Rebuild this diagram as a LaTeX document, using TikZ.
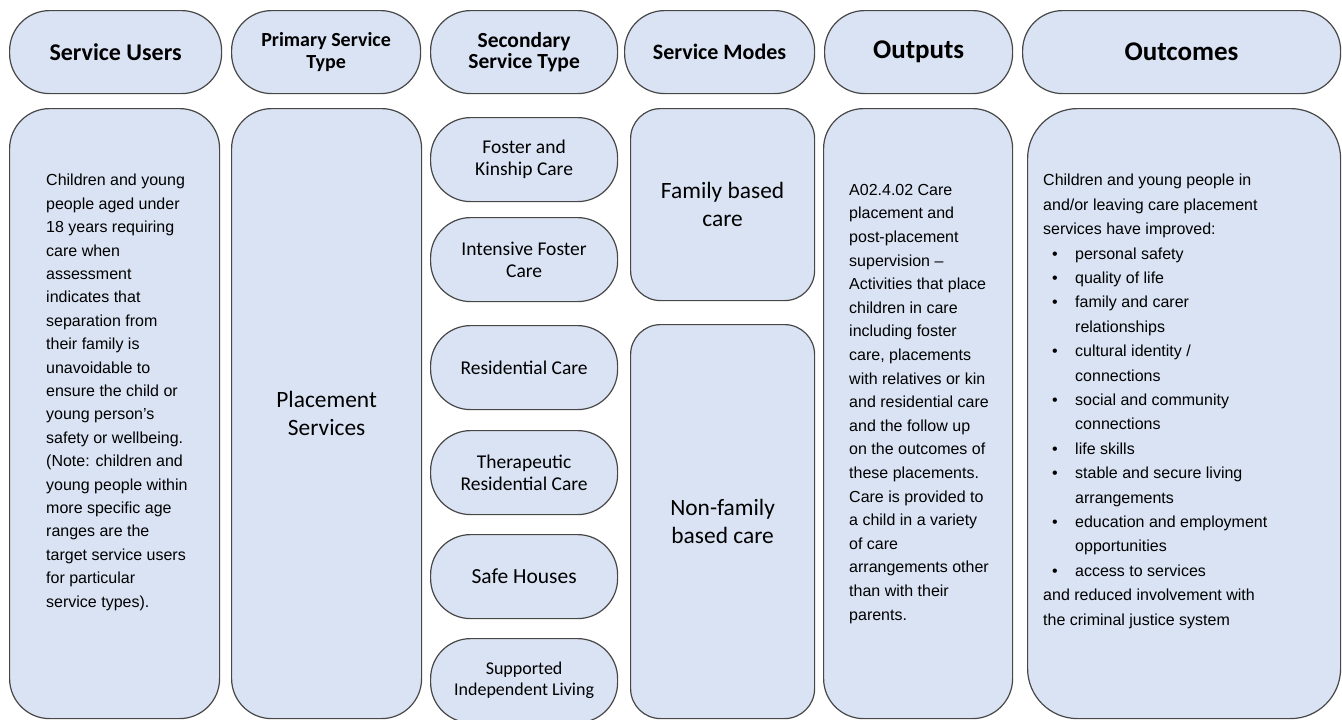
\documentclass[tikz,border=0pt]{standalone}
\usepackage{fontspec}
\setmainfont{Carlito}
\newfontfamily\arialf{Liberation Sans}
\definecolor{boxfill}{HTML}{DAE3F3}
\definecolor{boxline}{HTML}{474747}
\newcommand\bulitem{\makebox[32pt][l]{\hspace*{9pt}•}}
\newcommand\bulcont{\hspace*{32pt}}
\begin{document}
\begin{tikzpicture}[x=1pt,y=-1pt,
  box/.style={draw=boxline, fill=boxfill, line width=1.2pt, inner sep=0pt, anchor=north west, align=center},
  hdr/.style={box, rounded corners=40pt, minimum height=83pt},
  sec/.style={box, rounded corners=40pt, minimum width=187pt, minimum height=84pt, font=\fontsize{19.5}{21.7}\selectfont},
  bodytxt/.style={inner sep=0pt, anchor=north west, align=left, font=\arialf\fontsize{16}{23.4}\selectfont}]
\useasboundingbox (0,0) rectangle (1342,720);
% header row
\node[hdr, minimum width=212pt, font=\bfseries\fontsize{24}{26}\selectfont] (h1) at (9,10) {Service Users};
\node[hdr, minimum width=189pt, font=\bfseries\fontsize{20}{21.7}\selectfont] (h2) at (231,10) {Primary Service\\Type};
\node[hdr, minimum width=187pt, font=\bfseries\fontsize{21.5}{20.5}\selectfont] (h3) at (430,10) {Secondary\\Service Type};
\node[hdr, minimum width=190pt, font=\bfseries\fontsize{22}{24}\selectfont] (h4) at (624,10) {Service Modes};
\node[hdr, minimum width=188pt, font=\bfseries\fontsize{27}{29}\selectfont] (h5) at (824,10) {Outputs};
\node[hdr, minimum width=318pt, font=\bfseries\fontsize{27}{29}\selectfont] (h6) at (1022,10) {Outcomes};
% body row
\node[box, rounded corners=40pt, minimum width=210pt, minimum height=610pt] (users) at (9,108) {};
\node[box, rounded corners=40pt, minimum width=190pt, minimum height=610pt, font=\fontsize{23.4}{28.3}\selectfont] (prim) at (231,108) {Placement\\Services};
\node[sec] (s1) at (430,117) {Foster and\\Kinship Care};
\node[sec] (s2) at (430,217) {Intensive Foster\\Care};
\node[sec] (s3) at (430,325) {Residential Care};
\node[sec] (s4) at (430,430) {Therapeutic\\Residential Care};
\node[sec, font=\fontsize{21.5}{24}\selectfont] (s5) at (430,534) {Safe Houses};
\node[sec, font=\fontsize{18}{21}\selectfont] (s6) at (430,638) {Supported\\Independent Living};
\node[box, rounded corners=30pt, minimum width=184pt, minimum height=192pt, font=\fontsize{23.4}{28.3}\selectfont] (m1) at (630,108) {Family based\\care};
\node[box, rounded corners=30pt, minimum width=184pt, minimum height=394pt, font=\fontsize{23.4}{28.3}\selectfont] (m2) at (630,324) {Non-family\\based care};
\node[box, rounded corners=40pt, minimum width=189pt, minimum height=610pt] (outp) at (823,108) {};
\node[box, rounded corners=50pt, minimum width=313pt, minimum height=610pt] (outc) at (1027,108) {};
% body texts
\node[bodytxt] (userst) at (46,174) {Children and young\\
people aged under\\
18 years requiring\\
care when\\
assessment\\
indicates that\\
separation from\\
their family is\\
unavoidable to\\
ensure the child or\\
young person’s\\
safety or wellbeing.\\
(Note: children and\\
young people within\\
more specific age\\
ranges are the\\
target service users\\
for particular\\
service types).};
\node[bodytxt, font=\arialf\fontsize{16}{23.6}\selectfont] (outpt) at (849,184) {A02.4.02 Care\\
placement and\\
post-placement\\
supervision –\\
Activities that place\\
children in care\\
including foster\\
care, placements\\
with relatives or kin\\
and residential care\\
and the follow up\\
on the outcomes of\\
these placements.\\
Care is provided to\\
a child in a variety\\
of care\\
arrangements other\\
than with their\\
parents.};
\node[bodytxt, font=\arialf\fontsize{16}{24.4}\selectfont] (outct) at (1043,174) {Children and young people in\\
and/or leaving care placement\\
services have improved:\\
\bulitem personal safety\\
\bulitem quality of life\\
\bulitem family and carer\\
\bulcont relationships\\
\bulitem cultural identity /\\
\bulcont connections\\
\bulitem social and community\\
\bulcont connections\\
\bulitem life skills\\
\bulitem stable and secure living\\
\bulcont arrangements\\
\bulitem education and employment\\
\bulcont opportunities\\
\bulitem access to services\\
and reduced involvement with\\
the criminal justice system};
\end{tikzpicture}
\end{document}
